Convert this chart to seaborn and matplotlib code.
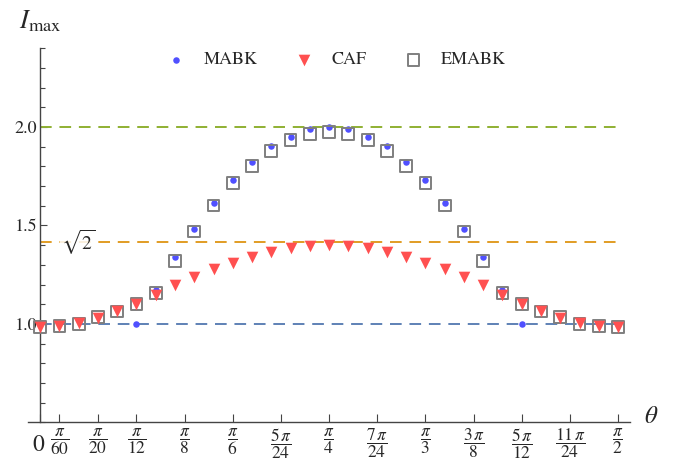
import numpy as np
import pandas as pd
import matplotlib
matplotlib.use("Agg")
import matplotlib.pyplot as plt
import matplotlib.transforms as mtransforms
import seaborn as sns
from matplotlib.ticker import FixedLocator, MultipleLocator

### Données (theta = k * pi / 60)
k_all = [0, 1, 2, 3, 4, 5, 6, 7, 8, 9, 10, 11, 12, 13, 14, 15,
         16, 17, 18, 19, 20, 21, 22, 23, 24, 25, 26, 27, 28, 29, 30]
k_mabk = [5, 6, 7, 8, 9, 10, 11, 12, 13, 14, 15,
          16, 17, 18, 19, 20, 21, 22, 23, 24, 25]

mabk = [1.000, 1.173, 1.339, 1.482, 1.616, 1.729, 1.824, 1.904, 1.951, 1.988, 2.000,
        1.988, 1.951, 1.904, 1.824, 1.729, 1.616, 1.482, 1.339, 1.173, 1.000]
caf = [0.986, 0.990, 1.005, 1.030, 1.068, 1.103, 1.149, 1.196, 1.237, 1.277, 1.312,
       1.342, 1.367, 1.388, 1.398, 1.403, 1.398, 1.388, 1.367, 1.342, 1.312,
       1.277, 1.237, 1.196, 1.149, 1.103, 1.068, 1.030, 1.005, 0.990, 0.986]
emabk = [0.985, 0.990, 1.000, 1.034, 1.063, 1.100, 1.159, 1.320, 1.469, 1.601, 1.714,
         1.803, 1.880, 1.934, 1.964, 1.975, 1.964, 1.934, 1.880, 1.803, 1.714,
         1.601, 1.469, 1.320, 1.159, 1.100, 1.063, 1.034, 1.000, 0.990, 0.985]

ref_levels = [1.0, np.sqrt(2), 2.0]
ref_colors = ["#5E81B5", "#E19C24", "#8FB032"]

tick_frac = [0, 1/60, 1/20, 1/12, 1/8, 1/6, 5/24, 1/4, 7/24, 1/3, 3/8, 5/12, 11/24, 1/2]
tick_labels = ["$0$", r"$\dfrac{\pi}{60}$", r"$\dfrac{\pi}{20}$", r"$\dfrac{\pi}{12}$",
               r"$\dfrac{\pi}{8}$", r"$\dfrac{\pi}{6}$", r"$\dfrac{5\,\pi}{24}$",
               r"$\dfrac{\pi}{4}$", r"$\dfrac{7\,\pi}{24}$", r"$\dfrac{\pi}{3}$",
               r"$\dfrac{3\,\pi}{8}$", r"$\dfrac{5\,\pi}{12}$", r"$\dfrac{11\,\pi}{24}$",
               r"$\dfrac{\pi}{2}$"]

df_all = pd.DataFrame({"theta": np.pi * np.array(k_all) / 60, "CAF": caf, "EMABK": emabk})
df_mabk = pd.DataFrame({"theta": np.pi * np.array(k_mabk) / 60, "MABK": mabk})

### Style
sns.set_style("white")
plt.rcParams["font.family"] = ["STIXGeneral", "DejaVu Serif"]
plt.rcParams["mathtext.fontset"] = "stix"

fig = plt.figure(figsize=(6.73, 4.62), dpi=100)
ax = fig.add_axes([0.0416, 0.0855, 0.8944, 0.8102])

### Lignes de référence
ax.hlines(ref_levels, 0, np.pi / 2, colors=ref_colors, linestyles=(0, (6, 4)),
          linewidth=1.4, zorder=1)

### Séries
sns.scatterplot(data=df_mabk, x="theta", y="MABK", ax=ax, marker="o", s=22,
                color="#5050FF", linewidth=0, label="MABK", zorder=2)
sns.scatterplot(data=df_all, x="theta", y="CAF", ax=ax, marker="v", s=70,
                color="#FF5050", linewidth=0, label="CAF", zorder=4)
sns.scatterplot(data=df_all, x="theta", y="EMABK", ax=ax, marker="s", s=72,
                facecolor="none", edgecolor="#7F7F7F", linewidth=1.4,
                label="EMABK", zorder=3)

### Axes
ax.set_xlim(-0.033, 1.603)
ax.set_ylim(0.5, 2.4)
ax.spines["left"].set_position(("data", 0))
ax.spines["top"].set_visible(False)
ax.spines["right"].set_visible(False)
for s in ["left", "bottom"]:
    ax.spines[s].set_color("#444444")
    ax.spines[s].set_linewidth(1.0)

ax.xaxis.set_major_locator(FixedLocator([np.pi * f for f in tick_frac]))
ax.set_xticklabels(tick_labels)
ax.yaxis.set_major_locator(FixedLocator([1.0, 1.5, 2.0]))
ax.set_yticklabels(["1.0", "1.5", "2.0"])
ax.yaxis.set_minor_locator(MultipleLocator(0.1))
ax.tick_params(axis="x", direction="in", length=6, width=0.8, color="#444444",
               labelsize=12.5, pad=3, bottom=True)
ax.tick_params(axis="y", which="major", direction="in", length=5, width=0.8,
               color="#444444", labelsize=13, pad=2, left=True)
ax.tick_params(axis="y", which="minor", direction="in", length=3.5, width=0.8,
               color="#444444", left=True)
ax.set_xlabel("")
ax.set_ylabel("")

# le "0" est plus grand et centré sur la barre des fractions
zero = ax.get_xticklabels()[0]
zero.set_fontsize(17)
zero.set_transform(zero.get_transform() +
                   mtransforms.ScaledTranslation(-1 / 72, -6 / 72, fig.dpi_scale_trans))

ax.text(0, 2.535, r"$I_{\mathrm{max}}$", fontsize=19, ha="center", va="center", clip_on=False)
ax.text(1.662, 0.53, r"$\theta$", fontsize=18, ha="center", va="center", clip_on=False)
ax.text(0.105, np.sqrt(2), r"$\sqrt{2}$", fontsize=14, ha="center", va="center",
        bbox=dict(facecolor="white", edgecolor="none", alpha=0.85, pad=1), zorder=5)

ax.legend(loc="center", bbox_to_anchor=(0.505, 0.968), ncol=3, frameon=False,
          fontsize=13, handlelength=2.0, handletextpad=0.5, columnspacing=1.6)

plt.savefig("out.png", dpi=100)
